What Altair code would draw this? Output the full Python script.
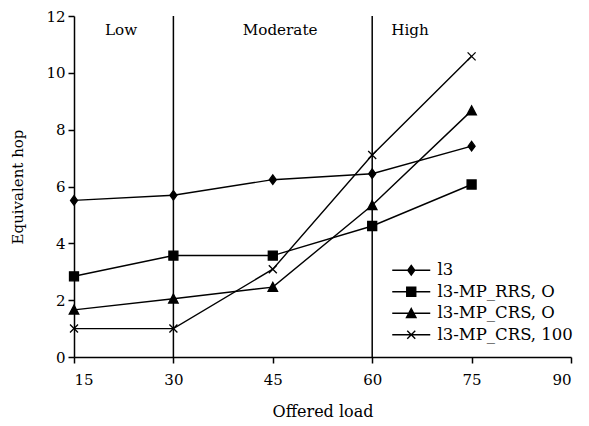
import altair as alt
import pandas as pd

loads = [15, 30, 45, 60, 75]
series = ["l3", "l3-MP_RRS, O", "l3-MP_CRS, O", "l3-MP_CRS, 100"]
l3 = [5.51, 5.69, 6.24, 6.45, 7.42]
rrs = [2.84, 3.57, 3.57, 4.61, 6.07]
crs_o = [1.66, 2.05, 2.46, 5.34, 8.67]
crs_100 = [1.0, 1.0, 3.09, 7.11, 10.58]

region_names = ["Low", "Moderate", "High"]
region_x = [22.1, 46.1, 65.7]
region_y = [11.5, 11.5, 11.5]
boundaries = [30, 60]

FONT = "DejaVu Serif"

rows = []
for name, vals in zip(series, [l3, rrs, crs_o, crs_100]):
    for x, y in zip(loads, vals):
        rows.append({"load": x, "hop": y, "series": name})
df = pd.DataFrame(rows)
regions = pd.DataFrame({"name": region_names, "x": region_x, "y": region_y})
bounds = pd.DataFrame({"x": boundaries})

markers = [
    "M0,-0.95L0.7,0L0,0.95L-0.7,0Z",
    "M-0.9,-0.9H0.9V0.9H-0.9Z",
    "M0,-0.95L0.95,0.85H-0.95Z",
    "M-0.8,-0.8L0.8,0.8M-0.8,0.8L0.8,-0.8",
]
legend_markers = ["M-3.8,0H3.8" + m for m in markers]

xscale = alt.Scale(domain=[15, 90], nice=False, zero=False)
yscale = alt.Scale(domain=[0, 12], nice=False)

xaxis = alt.Axis(values=[15, 30, 45, 60, 75, 90], title="Offered load", grid=False)
yaxis = alt.Axis(values=[0, 2, 4, 6, 8, 10, 12], title="Equivalent hop", grid=False)

base = alt.Chart(df)

lines = base.mark_line(color="black", strokeWidth=1.4).encode(
    x=alt.X("load:Q", scale=xscale, axis=xaxis),
    y=alt.Y("hop:Q", scale=yscale, axis=yaxis),
    detail="series:N",
)

point_layers = []
for name, m in zip(series, markers):
    point_layers.append(
        base.transform_filter(alt.datum.series == name).mark_point(
            shape=m, filled=True, fill="black", stroke="black", strokeWidth=1.3,
            opacity=1, size=100).encode(x="load:Q", y="hop:Q")
    )

leg = alt.Legend(title=None, orient="none", legendX=329, legendY=246,
                 labelFont=FONT, labelFontSize=16.5, labelColor="black",
                 labelOffset=18, rowPadding=4.5, padding=0,
                 symbolSize=100, symbolStrokeWidth=1.4)

legend_layer = base.mark_point(size=100, strokeWidth=1.4, opacity=1).encode(
    x=alt.value(-2000),
    y=alt.value(-2000),
    shape=alt.Shape("series:N", scale=alt.Scale(domain=series, range=legend_markers),
                    sort=series, legend=leg),
    stroke=alt.Stroke("series:N", scale=alt.Scale(domain=series, range=["black"] * 4),
                      sort=series, legend=leg),
    fill=alt.Fill("series:N", scale=alt.Scale(domain=series, range=["black"] * 4),
                  sort=series, legend=leg),
)

rules = alt.Chart(bounds).mark_rule(color="black", strokeWidth=1.5).encode(x="x:Q")

texts = alt.Chart(regions).mark_text(font=FONT, fontSize=15.2, color="black").encode(
    x="x:Q", y="y:Q", text="name:N"
)

chart = alt.layer(rules, lines, *point_layers, legend_layer, texts).properties(
    width=497, height=341,
    autosize=alt.AutoSizeParams(type="none"),
    padding={"left": 66, "top": 8, "right": 10, "bottom": 68},
).configure_view(stroke=None).configure_axis(
    labelFont=FONT, titleFont=FONT, labelFontSize=15, titleFontSize=16,
    labelColor="black", titleColor="black", domainColor="black", tickColor="black",
    domainWidth=1.5, tickWidth=1.5, tickSize=6, titleFontWeight="normal",
).configure_axisX(titlePadding=16, labelPadding=9).configure_axisY(
    titlePadding=20, labelPadding=3, titleFontSize=15)

chart.save("out.html", embed_options={"renderer": "svg", "actions": False})
